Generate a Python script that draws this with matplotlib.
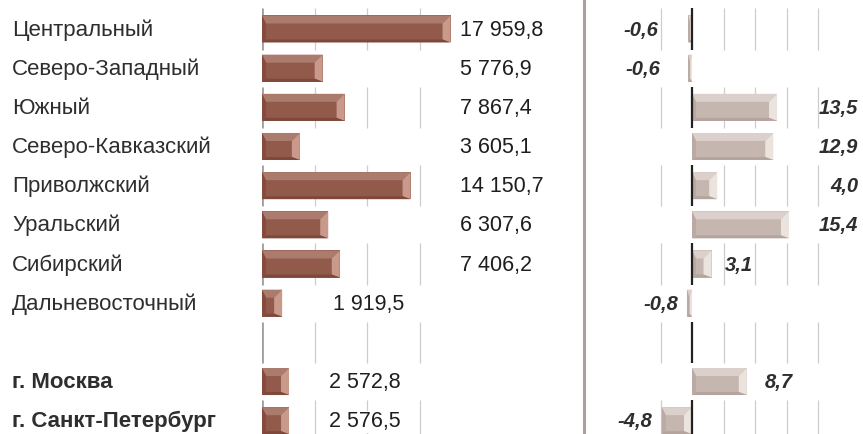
import matplotlib
matplotlib.use("Agg")
import matplotlib.pyplot as plt
from matplotlib.transforms import blended_transform_factory
from matplotlib.lines import Line2D

plt.rcParams["font.family"] = ["Liberation Sans", "DejaVu Sans"]

# Federal districts and the two federal cities (empty row separates the groups)
regions = ["Центральный", "Северо-Западный", "Южный", "Северо-Кавказский",
           "Приволжский", "Уральский", "Сибирский", "Дальневосточный",
           "", "г. Москва", "г. Санкт-Петербург"]
volume = [17959.8, 5776.9, 7867.4, 3605.1, 14150.7, 6307.6, 7406.2, 1919.5,
          None, 2572.8, 2576.5]
change = [-0.6, -0.6, 13.5, 12.9, 4.0, 15.4, 3.1, -0.8, None, 8.7, -4.8]
bold_rows = [9, 10]

volume_grid = [5000, 10000, 15000]
change_grid = [-5, 5, 10, 15, 20]

# label anchors (data units of each panel)
volume_label_x = [18850] * 7 + [6760, None, 6380, 6380]
change_label_pos = [(-5.4, "right"), (-5.1, "right"), (26.4, "right"),
                    (26.4, "right"), (26.4, "right"), (26.4, "right"),
                    (5.2, "left"), (-2.2, "right"), None, (11.6, "left"),
                    (-6.35, "right")]

W, H = 863, 434
fig = plt.figure(figsize=(W / 100, H / 100), dpi=100)
fig.patch.set_facecolor("white")

ax_l = fig.add_axes([262 / W, 0, (580 - 262) / W, 1])
ax_r = fig.add_axes([590 / W, 0, (W - 590) / W, 1])
ax_l.set_xlim(0, 318 / 0.0105)
ax_r.set_xlim((590 - 692) / 6.3, (W - 692) / 6.3)
for ax in (ax_l, ax_r):
    ax.set_ylim(10.34, -0.74)
    ax.axis("off")

BAR_H = 0.69
LEFT_COLORS = dict(face="#925a4b", top="#ab7b6d", right="#c99a8b",
                   bottom="#7e483b", left="#874a3f")
RIGHT_COLORS = dict(face="#c6b6b0", top="#dbd0cb", right="#ebe4de",
                    bottom="#b5a49e", left="#bba9a3")


def px_scale(ax):
    x0, x1 = ax.get_xlim()
    y0, y1 = ax.get_ylim()
    return ax.bbox.width / abs(x1 - x0), ax.bbox.height / abs(y1 - y0)


def bevel_bar(ax, y, v, colors):
    sx, sy = px_scale(ax)
    ax.barh(y, v, height=BAR_H, color=colors["face"], zorder=3, linewidth=0)
    x0, x1 = min(0, v), max(0, v)
    top, bot = y - BAR_H / 2, y + BAR_H / 2
    half = (x1 - x0) / 2
    dxr = min(8 / sx, half)
    dxl = min(4 / sx, half)
    dyt = 8 / sy
    dyb = 3 / sy
    polys = [
        ([x0, x1, x1 - dxr, x0 + dxl], [top, top, top + dyt, top + dyt], colors["top"]),
        ([x1, x1, x1 - dxr, x1 - dxr], [top, bot, bot - dyb, top + dyt], colors["right"]),
        ([x0, x1, x1 - dxr, x0 + dxl], [bot, bot, bot - dyb, bot - dyb], colors["bottom"]),
        ([x0, x0 + dxl, x0 + dxl, x0], [top, top + dyt, bot - dyb, bot], colors["left"]),
    ]
    for xs, ys, c in polys:
        ax.fill(xs, ys, color=c, zorder=4, linewidth=0)


# alternating rows carry grid segments and the zero line
for r in range(0, len(regions), 2):
    ax_l.vlines(volume_grid, r - 0.53, r + 0.53, color="#cdcdcd", lw=0.9, zorder=1)
    ax_l.vlines([0], r - 0.53, r + 0.53, color="#a0a0a0", lw=2.0, zorder=2)
    ax_r.vlines(change_grid, r - 0.53, r + 0.53, color="#cdcdcd", lw=0.9, zorder=1)
    ax_r.vlines([0], r - 0.53, r + 0.53, color="#222222", lw=1.6, zorder=5)

name_tr = blended_transform_factory(fig.transFigure, ax_l.transData)
BASE = 0.17

for i, name in enumerate(regions):
    if name:
        fig.text(12 / W, i + BASE, name, transform=name_tr, fontsize=16,
                 color="#2e2e2e", va="baseline", ha="left",
                 fontweight="bold" if i in bold_rows else "normal")
    v = volume[i]
    if v is not None:
        bevel_bar(ax_l, i, v, LEFT_COLORS)
        txt = f"{v:,.1f}".replace(",", " ").replace(".", ",")
        ax_l.text(volume_label_x[i], i + BASE, txt, fontsize=15.5, color="#1e1e1e",
                  va="baseline", ha="left", zorder=6,
                  bbox=dict(facecolor="white", edgecolor="none", pad=0.5))
    c = change[i]
    if c is not None:
        bevel_bar(ax_r, i, c, RIGHT_COLORS)
        x, ha = change_label_pos[i]
        ax_r.text(x, i + BASE, f"{c:.1f}".replace(".", ","), fontsize=14.5,
                  fontweight="bold", fontstyle="italic", color="#2e2e2e",
                  va="baseline", ha=ha, zorder=6)

# vertical divider between the two panels
fig.add_artist(Line2D([584 / W, 584 / W], [0, 1], transform=fig.transFigure,
                      color="#aaa09c", lw=2.2))

fig.savefig("out.png", dpi=100, facecolor="white")
